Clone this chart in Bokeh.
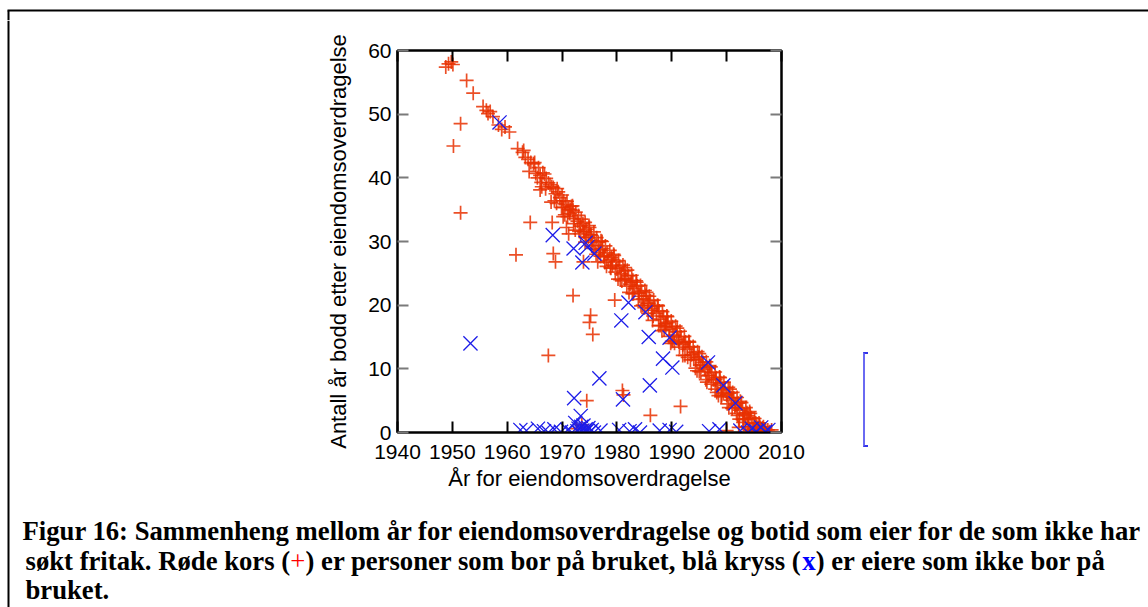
from bokeh.plotting import figure
from bokeh.models import Range1d, LinearAxis, FixedTicker, Div
from bokeh.layouts import column, row
from bokeh.core.properties import value
from bokeh.embed import file_html
from bokeh.resources import INLINE

# ---------------- data ----------------
x_ticks = [1940, 1950, 1960, 1970, 1980, 1990, 2000, 2010]
y_ticks = [0, 10, 20, 30, 40, 50, 60]
x_title = "År for eiendomsoverdragelse"
y_title = "Antall år bodd etter eiendomsoverdragelse"

# red "+": owners living on the farm
red_year = [
    1948.8, 1949.3, 1949.8, 1950.1, 1952.6, 1953.8, 1955.6, 1956.2, 1956.5, 1956.9,
    1957.4, 1958.4, 1959.0, 1959.6, 1960.4,
    1951.5, 1950.2, 1951.5, 1961.6, 1964.2, 1968.2, 1968.4, 1968.8, 1972.0, 1975.2,
    1975.0, 1975.6, 1967.5, 1974.5, 1979.6, 1981.0, 1986.1, 1991.6, 1989.8, 1973.9,
    1976.5, 1972.6, 1973.6, 2000.0, 2002.2, 1981.2, 1970.8, 1971.2,
    1961.9, 1962.8, 1963.3, 1963.8, 1964.3, 1964.8, 1965.2, 1965.7, 1966.0, 1966.5,
    1967.1, 1967.5, 1968.1, 1968.4, 1968.8, 1969.3, 1969.6, 1970.0, 1970.3, 1970.6,
    1970.9, 1971.2, 1971.4, 1971.7, 1972.0, 1972.2, 1972.5, 1972.8, 1973.0, 1973.3,
    1973.5, 1973.8, 1974.0, 1974.2, 1974.5, 1974.8, 1975.0, 1975.2, 1975.5, 1975.8,
    1976.0, 1976.3, 1976.6, 1976.9, 1977.1, 1977.4, 1977.6, 1977.9, 1978.2, 1978.4,
    1978.7, 1979.0, 1979.2, 1979.5, 1979.8, 1980.0, 1980.3, 1980.5, 1980.8, 1981.1,
    1981.3, 1981.6, 1981.9, 1982.1, 1982.4, 1982.7, 1982.9, 1983.2, 1983.5, 1983.7,
    1984.0, 1984.3, 1984.5, 1984.8, 1985.1, 1985.3, 1985.6, 1985.9, 1986.1, 1986.4,
    1986.7, 1986.9, 1987.2, 1987.5, 1987.7, 1988.0, 1988.3, 1988.5, 1988.8, 1989.1,
    1989.3, 1989.6, 1989.9, 1990.1, 1990.4, 1990.7, 1990.9, 1991.2, 1991.5, 1991.7,
    1992.0, 1992.3, 1992.5, 1992.8, 1993.1, 1993.3, 1993.6, 1993.9, 1994.1, 1994.4,
    1994.7, 1994.9, 1995.2, 1995.5, 1995.7, 1996.0, 1996.3, 1996.5, 1996.8, 1997.1,
    1997.3, 1997.6, 1997.9, 1998.1, 1998.4, 1998.7, 1998.9, 1999.2, 1999.5, 1999.7,
    2000.0, 2000.3, 2000.5, 2000.8, 2001.1, 2001.3, 2001.6, 2001.9, 2002.1, 2002.4,
    2002.7, 2002.9, 2003.2, 2003.5, 2003.7, 2004.0, 2004.3, 2004.5, 2004.8, 2005.1,
    2005.3, 2005.6, 2005.9, 2006.1, 2006.4, 2006.7, 2006.9, 2007.2, 2007.5, 2007.8,
    2008.0,
    1970.5, 1975.4, 1980.6, 1985.0, 1990.2, 1995.0, 1999.0, 2003.0, 1977.0, 1983.0,
    1987.9, 1992.9, 1997.9, 2001.8, 1973.1, 1978.9, 1966.3, 1969.0,
    2004.2, 2005.0, 2005.8, 2006.5, 2007.0, 2008.2, 2003.5,
    1964.0, 1965.5, 1967.0, 1968.6, 1969.9, 1971.0, 1972.1, 1973.4, 1974.4, 1975.7,
    1976.7, 1977.8, 1978.8, 1979.7, 1980.9, 1981.8, 1982.8, 1983.9, 1984.7, 1985.7,
    1986.6, 1987.6, 1988.6, 1989.5, 1990.5, 1991.4, 1992.4, 1993.4, 1994.3, 1995.3,
    1996.2, 1997.2, 1998.2, 1999.1, 2000.1, 2001.0, 2002.0, 2003.0, 2003.9, 2004.9,
    1963.0, 1965.0, 1966.8, 1969.1, 1971.9, 1974.9, 1977.3, 1979.4, 1981.5, 1983.6,
    1985.4, 1987.4, 1989.2, 1991.0, 1993.2, 1995.0, 1996.9, 1998.8, 2000.6, 2002.5,
    2004.2, 2006.0,
    1966.2, 1970.1, 1973.9, 1977.7, 1981.4, 1984.1, 1986.3, 1988.9, 1991.3, 1994.0,
    1996.6, 1999.4, 2001.5, 2003.3,
    1966.0, 1968.0, 1970.2, 1972.4, 1974.2, 1976.2, 1978.1, 1980.2, 1982.2, 1984.4,
    1986.5, 1988.2, 1990.0, 1992.0, 1994.6, 1996.4, 1998.5, 2000.4, 2002.3, 2004.0,
    1967.8, 1971.5, 1975.3, 1979.1, 1982.6, 1985.8, 1989.0, 1992.2, 1995.6, 1998.0,
    2000.9, 2003.9, 2005.5, 2006.8,
]
red_lived = [
    57.4, 57.9, 58.2, 57.8, 55.3, 53.3, 51.2, 50.6, 50.1, 50.4,
    49.6, 48.3, 47.6, 48.0, 47.2,
    48.5, 45.0, 34.5, 27.9, 33.0, 33.0, 28.1, 26.8, 21.5, 18.4,
    17.3, 15.4, 12.1, 5.0, 20.8, 6.6, 2.7, 4.1, 14.0, 26.8,
    26.8, 0.6, 1.2, 0.3, 0.8, 5.9, 32.2, 31.2,
    44.6, 44.0, 43.2, 42.9, 42.4, 42.2, 40.7, 41.6, 40.4, 40.8,
    39.9, 39.2, 38.6, 38.5, 37.5, 37.8, 36.9, 37.3, 36.4, 35.8,
    36.3, 35.1, 34.4, 35.5, 34.9, 33.6, 34.6, 33.2, 34.1, 32.4,
    33.5, 32.8, 31.5, 33.0, 31.9, 30.7, 32.2, 31.1, 30.2, 31.5,
    29.4, 30.6, 29.9, 28.7, 30.1, 28.9, 27.6, 29.3, 28.2, 27.0,
    28.6, 27.5, 26.3, 27.8, 26.8, 25.7, 27.0, 26.1, 24.9, 26.3,
    25.4, 24.2, 25.5, 24.6, 23.3, 24.7, 23.9, 22.6, 23.8, 23.0,
    21.9, 23.1, 22.2, 21.0, 22.3, 21.5, 20.3, 21.4, 20.7, 19.5,
    20.8, 19.8, 18.7, 19.9, 19.1, 17.8, 19.0, 18.2, 17.1, 18.3,
    17.3, 16.2, 17.5, 16.6, 15.3, 16.7, 15.8, 14.6, 15.9, 15.0,
    13.8, 15.1, 14.2, 13.1, 14.3, 13.4, 12.2, 13.5, 12.6, 11.4,
    12.7, 11.8, 10.6, 11.9, 11.0, 9.9, 11.1, 10.2, 9.0, 10.3,
    9.4, 8.3, 9.5, 8.6, 7.4, 8.7, 7.8, 6.7, 7.9, 7.0,
    5.9, 7.1, 6.2, 5.1, 6.3, 5.4, 4.3, 5.5, 4.6, 3.5,
    4.7, 3.8, 2.8, 3.9, 3.1, 2.1, 3.0, 2.3, 1.4, 2.2,
    1.5, 0.7, 1.5, 0.8, 0.2, 0.9, 0.3, 0.0, 0.4, 0.1,
    0.0,
    34.2, 29.3, 24.0, 19.6, 14.4, 9.6, 5.6, 1.6, 27.7, 21.8,
    16.8, 11.8, 6.8, 3.0, 31.6, 25.8, 38.6, 36.0,
    0.3, 0.6, 0.2, 0.7, 0.1, 0.4, 0.9,
    41.0, 40.0, 38.3, 36.4, 35.3, 33.9, 32.8, 31.2, 30.6, 28.9,
    28.3, 26.7, 25.9, 25.2, 23.8, 23.0, 21.8, 20.9, 20.0, 18.7,
    18.3, 16.8, 16.1, 15.1, 14.0, 13.4, 12.1, 11.4, 10.1, 9.5,
    8.3, 7.6, 6.3, 5.8, 4.5, 3.8, 2.7, 2.0, 0.9, 0.3,
    44.3, 42.4, 40.6, 38.3, 35.6, 32.5, 30.0, 28.0, 25.9, 23.6,
    22.0, 20.0, 18.2, 16.4, 14.2, 12.4, 10.5, 8.6, 6.8, 4.9,
    3.3, 1.3,
    39.3, 35.4, 31.6, 27.8, 24.1, 21.4, 19.2, 16.6, 14.2, 11.5,
    8.9, 6.1, 4.0, 2.2,
    38.1, 36.2, 33.9, 31.8, 29.9, 28.0, 26.1, 24.1, 22.0, 19.9,
    17.6, 16.0, 14.3, 12.1, 9.7, 7.9, 5.8, 3.9, 2.1, 0.5,
    38.9, 35.0, 31.0, 27.2, 23.6, 20.3, 17.1, 14.0, 10.6, 8.3,
    5.5, 2.6, 1.0, 0.5,
]

# blue "x": owners not living on the farm
blue_year = [
    1958.6, 1953.3, 1968.3, 1972.1, 1973.7, 1974.6, 1975.9, 1974.3, 1976.8, 1972.2,
    1973.4, 1980.8, 1981.1, 1982.1, 1985.2, 1985.8, 1988.4, 1989.6, 1990.1, 1986.0,
    1996.6, 1999.4, 2001.6,
    1962.4, 1963.5, 1965.6, 1966.7, 1967.5, 1968.6, 1969.8, 1971.0, 1971.8, 1972.4,
    1972.8, 1973.0, 1973.2, 1973.5, 1973.7, 1973.9, 1974.1, 1974.3, 1974.5, 1974.8,
    1975.1, 1975.4, 1975.8, 1977.0, 1980.4, 1982.3, 1983.3, 1984.2, 1987.8, 1989.6,
    1990.8, 1996.8, 1998.7, 2002.5, 2003.9, 2004.6, 2005.4, 2006.3, 2007.0, 2007.6,
]
blue_lived = [
    48.7, 14.0, 31.0, 28.9, 26.7, 29.1, 28.1, 29.8, 8.5, 5.4,
    2.6, 17.6, 5.2, 20.4, 18.9, 15.0, 11.6, 14.9, 10.2, 7.4,
    11.0, 7.4, 4.6,
    0.4, 0.3, 0.6, 0.2, 0.0, 0.5, 0.1, 0.4, 0.0, 1.5,
    0.2, 0.6, 0.0, 0.9, 0.3, 1.1, 0.0, 0.5, 0.2, 0.7,
    0.1, 0.4, 0.0, 0.3, 0.4, 0.2, 0.5, 0.0, 0.3, 0.4,
    0.1, 0.2, 0.5, 0.3, 0.0, 0.6, 0.2, 0.8, 0.1, 0.4,
]

caption_line1 = "Figur 16: Sammenheng mellom år for eiendomsoverdragelse og botid som eier for de som ikke har"
caption_line2 = ["søkt fritak. Røde kors (", "+", ") er personer som bor på bruket, blå kryss (",
                 "x", ") er eiere som ikke bor på"]
caption_line3 = "bruket."

# ---------------- page layout (pixels) ----------------
W, H = 1148, 607
TOP_H = 20          # strip holding the top rule
LEFT_W = 12         # strip holding the left rule
A_RIGHT = 820       # right edge of the chart cell
A_BOTTOM = 510      # bottom edge of the chart cell
FL, FR, FT, FB = 397, 781, 50, 432   # plot frame edges on the page


def deco(x0, x1, y0, y1):
    """Blank figure whose frame fills its canvas; ranges are page pixels (y down)."""
    f = figure(width=x1 - x0, height=y1 - y0, output_backend="svg", toolbar_location=None,
               title=None, x_range=Range1d(x0, x1), y_range=Range1d(y1, y0),
               x_axis_location=None, y_axis_location=None, min_border=0)
    f.grid.visible = False
    f.outline_line_color = None
    f.background_fill_color = "white"
    f.border_fill_color = "white"
    return f


# ---------------- main chart ----------------
p = figure(width=A_RIGHT - LEFT_W, height=A_BOTTOM - TOP_H,
           output_backend="svg", toolbar_location=None,
           x_range=Range1d(1940, 2010), y_range=Range1d(0, 60),
           min_border_left=FL - LEFT_W, min_border_right=A_RIGHT - FR,
           min_border_top=FT - TOP_H, min_border_bottom=A_BOTTOM - FB,
           x_axis_label=x_title, y_axis_label=y_title)
p.background_fill_color = "white"
p.border_fill_color = "white"
p.outline_line_color = "black"
p.outline_line_width = 2
p.grid.visible = False

FONT = "Liberation Sans"
for ax in (p.xaxis[0], p.yaxis[0]):
    ax.axis_line_color = "black"
    ax.axis_line_width = 2
    ax.major_tick_in = 11
    ax.major_tick_out = 0
    ax.minor_tick_line_color = None
    ax.major_tick_line_width = 2
    ax.major_label_text_font = FONT
    ax.major_label_text_font_size = "21px"
    ax.major_label_text_color = "black"
    ax.axis_label_text_font = FONT
    ax.axis_label_text_font_size = "22px"
    ax.axis_label_text_font_style = "normal"
    ax.axis_label_text_color = "black"

p.xaxis[0].ticker = FixedTicker(ticks=x_ticks)
p.yaxis[0].ticker = FixedTicker(ticks=y_ticks)
p.xaxis[0].major_tick_line_color = "black"
p.yaxis[0].major_tick_line_color = "#7a7a7a"
p.xaxis[0].major_label_standoff = 12
p.yaxis[0].major_label_standoff = 6
p.xaxis[0].axis_label_standoff = 4
p.yaxis[0].axis_label_standoff = 14

top_ax = LinearAxis(ticker=FixedTicker(ticks=x_ticks), major_tick_in=11, major_tick_out=0,
                    major_tick_line_width=2, major_tick_line_color="black",
                    minor_tick_line_color=None, axis_line_color="black", axis_line_width=2,
                    major_label_text_color=None, major_label_text_font_size="1px",
                    major_label_standoff=0)
right_ax = LinearAxis(ticker=FixedTicker(ticks=y_ticks), major_tick_in=11, major_tick_out=0,
                      major_tick_line_width=2, major_tick_line_color="#7a7a7a",
                      minor_tick_line_color=None, axis_line_color="black", axis_line_width=2,
                      major_label_text_color=None, major_label_text_font_size="1px",
                      major_label_standoff=0)
p.add_layout(top_ax, "above")
p.add_layout(right_ax, "right")

p.scatter(red_year, red_lived, marker="cross", size=14, line_color="#E83000",
          line_width=1.7, line_alpha=0.85)
p.scatter(blue_year, blue_lived, marker="x", size=20, line_color="#1E1EE8",
          line_width=1.3)

# ---------------- decoration cells ----------------
top_strip = deco(0, W, 0, TOP_H)
top_strip.segment(x0=[7, 8], y0=[10, 10], x1=[W, 8], y1=[10, TOP_H],
                  line_color="black", line_width=2)

left_strip = deco(0, LEFT_W, TOP_H, H)
left_strip.segment(x0=[8], y0=[TOP_H], x1=[8], y1=[H], line_color="black", line_width=2)

# clipped legend edge to the right of the chart (pure CSS, no text)
bracket_html = ('<div style="position:relative; left:43px; top:332px; width:5px; height:95px; '
                'box-sizing:border-box; border:2px solid #3434ea; border-right:none; '
                'border-left-color:#6a6af2"></div>')
right_cell = Div(text=bracket_html, width=W - A_RIGHT, height=A_BOTTOM - TOP_H,
                 margin=0, styles={"padding": "0px"})

cap_cell = deco(LEFT_W, W, A_BOTTOM, H)
CAP_SIZE = 26.7
CAP_SHIFT = -10     # measured baseline correction of the caption cell
em_offsets = [0.0, 9.916, 10.486, 29.096, 29.596]
seg_colors = ["black", "#FF0000", "black", "#0000FF", "black"]
seg_styles = ["bold", "normal", "bold", "bold", "bold"]

def cap_text(txt, x, y, color, style):
    cap_cell.text(x=[x], y=[y + CAP_SHIFT], text=[txt], text_font=value("Liberation Serif"),
                  text_font_size=value(f"{CAP_SIZE}px"), text_font_style=style,
                  text_color=color, text_align="left", text_baseline="alphabetic")

cap_text(caption_line1, 22, 540, "black", "bold")
for seg, off, col, st in zip(caption_line2, em_offsets, seg_colors, seg_styles):
    cap_text(seg, 25 + off * CAP_SIZE, 570, col, st)
cap_text(caption_line3, 25, 599, "black", "bold")

page = column(top_strip,
              row(left_strip,
                  column(row(p, right_cell), cap_cell)))

open("out.html", "w", encoding="utf-8").write(file_html(page, INLINE))
